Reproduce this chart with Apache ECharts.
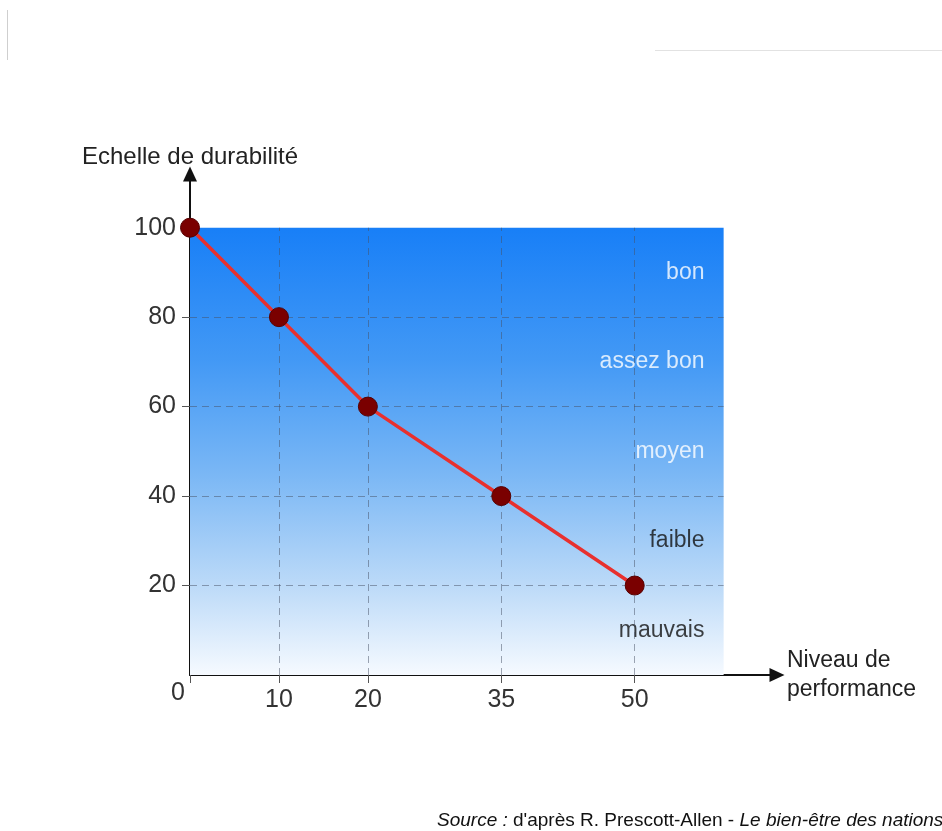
<!DOCTYPE html>
<html>
<head>
<meta charset="utf-8">
<script src="https://cdn.jsdelivr.net/npm/echarts@6/dist/echarts.min.js"></script>
<style>
  html, body { margin: 0; padding: 0; background: #fff; }
  #chart { width: 942px; height: 831px; }
</style>
</head>
<body>
<div id="chart"></div>
<script>
// Durability scale versus performance level
const perfLevels = [0, 10, 20, 35, 50];
const durability = [100, 80, 60, 40, 20];
const xTickValues = [0, 10, 20, 35, 50];
const yTickValues = [20, 40, 60, 80, 100];
const bandNames = ['bon', 'assez bon', 'moyen', 'faible', 'mauvais'];
const bandCenters = [90, 70, 50, 30, 10];
const bandColors = ['#ffffff', '#ffffff', '#ffffff', '#111111', '#111111'];
const bandLabelX = 57.9;
const areaMaxX = 60;
const areaMaxY = 100;

const FONT = '"Liberation Sans", Arial, Helvetica, sans-serif';

const linePoints = perfLevels.map((x, i) => [x, durability[i]]);

// dashed reference grid inside the shaded area
const gridLines = [];
xTickValues.filter(v => v > 0).forEach(v => {
  gridLines.push([{ coord: [v, 0] }, { coord: [v, areaMaxY] }]);
});
yTickValues.filter(v => v < areaMaxY).forEach(v => {
  gridLines.push([{ coord: [0, v] }, { coord: [areaMaxX, v] }]);
});

const chart = echarts.init(document.getElementById('chart'));

const option = {
  animation: false,
  backgroundColor: '#ffffff',
  textStyle: { fontFamily: FONT },
  grid: { left: 190, right: 165, top: 174, bottom: 156 },
  xAxis: {
    type: 'value',
    min: 0,
    max: 66,
    name: 'Niveau de\nperformance',
    nameLocation: 'end',
    nameGap: 10,
    nameTextStyle: {
      fontFamily: FONT, fontSize: 23, color: '#222', lineHeight: 29,
      align: 'left', verticalAlign: 'middle', padding: [6, 0, 0, 0]
    },
    axisLine: {
      show: true,
      onZero: false,
      symbol: ['none', 'triangle'],
      symbolSize: [14, 15],
      lineStyle: { color: '#111', width: 2 }
    },
    axisTick: {
      show: true, inside: false, length: 8,
      customValues: xTickValues,
      lineStyle: { color: '#555', width: 1 }
    },
    axisLabel: {
      show: true,
      customValues: xTickValues.filter(v => v > 0),
      margin: 13,
      fontFamily: FONT, fontSize: 25, color: '#333'
    },
    splitLine: { show: false }
  },
  yAxis: {
    type: 'value',
    min: 0,
    max: 112,
    name: 'Echelle de durabilité',
    nameLocation: 'end',
    nameGap: 5,
    nameTextStyle: { fontFamily: FONT, fontSize: 24, color: '#222', align: 'center' },
    axisLine: {
      show: true,
      onZero: false,
      symbol: ['none', 'triangle'],
      symbolSize: [14, 15],
      lineStyle: { color: '#111', width: 2 }
    },
    axisTick: {
      show: true, inside: false, length: 8,
      customValues: yTickValues,
      lineStyle: { color: '#555', width: 1 }
    },
    axisLabel: {
      show: true,
      customValues: yTickValues,
      margin: 14,
      fontFamily: FONT, fontSize: 25, color: '#333'
    },
    splitLine: { show: false }
  },
  series: [
    {
      // shaded background with a blue-to-white gradient
      type: 'line',
      data: [],
      z: 1,
      silent: true,
      markArea: {
        silent: true,
        itemStyle: {
          color: new echarts.graphic.LinearGradient(0, 0, 0, 1, [
            { offset: 0, color: '#187ff7' },
            { offset: 0.3, color: '#4399f5' },
            { offset: 0.55, color: '#7ab7f5' },
            { offset: 0.8, color: '#bcdaf8' },
            { offset: 1, color: '#f6faff' }
          ])
        },
        data: [[{ coord: [0, 0] }, { coord: [areaMaxX, areaMaxY] }]]
      }
    },
    {
      // dashed grid
      type: 'line',
      data: [],
      z: 2,
      silent: true,
      markLine: {
        silent: true,
        symbol: ['none', 'none'],
        label: { show: false },
        lineStyle: { type: [7, 5], color: 'rgba(70,80,100,0.5)', width: 1 },
        data: gridLines
      }
    },
    {
      // band names
      type: 'scatter',
      z: 3,
      silent: true,
      symbolSize: 1,
      itemStyle: { color: 'rgba(0,0,0,0)' },
      data: bandNames.map((n, i) => ({
        value: [bandLabelX, bandCenters[i]],
        label: {
          show: true,
          position: 'left',
          distance: 0,
          formatter: n,
          fontFamily: FONT,
          fontSize: 23,
          color: bandColors[i],
          padding: [4, 0, 0, 0]
        }
      }))
    },
    {
      type: 'line',
      z: 5,
      data: linePoints,
      symbol: 'circle',
      symbolSize: 19,
      lineStyle: { color: '#e8302e', width: 3.5 },
      itemStyle: { color: '#7a0000', borderColor: '#560000', borderWidth: 1 }
    }
  ]
};

chart.setOption(option);

// origin label and page decorations
const origin = chart.convertToPixel({ gridIndex: 0 }, [0, 0]);
chart.setOption({
  graphic: [
    {
      type: 'text',
      left: origin[0] - 19,
      top: origin[1] + 6,
      style: { text: '0', fontFamily: FONT, fontSize: 25, fill: '#333' }
    },
    {
      type: 'line',
      shape: { x1: 7.5, y1: 10, x2: 7.5, y2: 60 },
      style: { stroke: '#cfcfcf', lineWidth: 1 }
    },
    {
      type: 'line',
      shape: { x1: 655, y1: 50.5, x2: 942, y2: 50.5 },
      style: { stroke: '#e2e2e2', lineWidth: 1 }
    },
    {
      type: 'text',
      left: 437,
      top: 811,
      style: {
        text: '{i|Source :} d\'après R. Prescott-Allen - {i|Le bien-être des nations}',
        fontFamily: FONT,
        fontSize: 19,
        fill: '#111',
        rich: {
          i: { fontStyle: 'italic', fontFamily: FONT, fontSize: 19, fill: '#111' }
        }
      }
    }
  ]
});
</script>
</body>
</html>
